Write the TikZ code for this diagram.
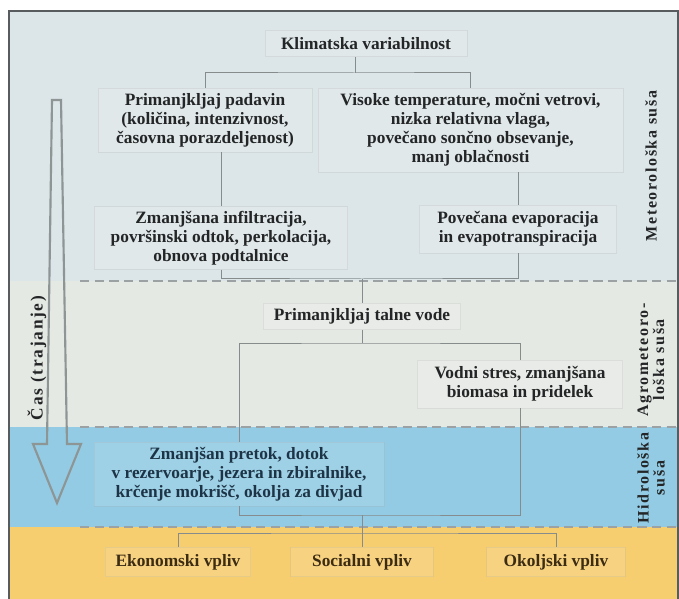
\documentclass[tikz,border=0pt]{standalone}
\usepackage{fontspec}
\setmainfont{Liberation Serif}
\newfontfamily\spacedserif[LetterSpace=10]{Liberation Serif}
\usepackage{tikz}
\usetikzlibrary{calc}
\definecolor{meteo}{HTML}{DCE5E8}
\definecolor{agro}{HTML}{E5E9E4}
\definecolor{hidro}{HTML}{92CBE3}
\definecolor{vpliv}{HTML}{F6CE70}
\definecolor{connline}{HTML}{868C8C}
\definecolor{sepline}{HTML}{9CA2A3}
\definecolor{frameline}{HTML}{585C5E}
\definecolor{arrowline}{HTML}{8E9595}
\definecolor{darktext}{HTML}{232526}
\definecolor{hidrotext}{HTML}{1D3446}
\definecolor{vplivtext}{HTML}{3D2C14}
\newcommand{\bx}{\bfseries\fontsize{13}{14.2}\selectfont}
\newcommand{\sidefont}{\spacedserif\bfseries\fontsize{12}{12}\selectfont}

\begin{document}
\begin{tikzpicture}[x=0.75pt,y=-0.75pt,
    box/.style={draw=gray!70,draw opacity=0.2,line width=0.5pt,fill=white,fill opacity=0.12,
      text opacity=1,text=darktext,align=center,font=\bx,inner sep=0pt},
    conn/.style={draw=connline,line width=0.75pt},
    sep/.style={draw=sepline,line width=1.5pt,dash pattern=on 7pt off 4pt},
    side/.style={rotate=90,align=center,font=\sidefont,text=darktext,inner sep=0pt}]
\useasboundingbox (0,0) rectangle (679,599);
\fill[white] (0,0) rectangle (679,599);
\fill[meteo] (9,11) rectangle (679,281);
\fill[agro] (9,281) rectangle (679,427);
\fill[hidro] (9,427) rectangle (679,527);
\fill[vpliv] (9,527) rectangle (679,599);
\draw[sep] (80,281) -- (679,281);
\draw[sep] (80,427) -- (679,427);
\draw[sep] (80,527) -- (679,527);
\draw[frameline,line width=1.5pt] (9,599) -- (9,11) -- (678,11) -- (678,599);

\node[box,minimum width=151.5pt,minimum height=20pt] (klima) at (366,43.5) {Klimatska variabilnost};
\node[box,minimum width=160.5pt,minimum height=48pt] (padavin) at (205,120) {Primanjkljaj padavin\\(količina, intenzivnost,\\časovna porazdeljenost)};
\node[box,minimum width=229pt,minimum height=63pt] (visoke) at (470.5,130) {Visoke temperature, močni vetrovi,\\nizka relativna vlaga,\\povečano sončno obsevanje,\\manj oblačnosti};
\node[box,minimum width=190pt,minimum height=47pt] (infil) at (221,238) {Zmanjšana infiltracija,\\površinski odtok, perkolacija,\\obnova podtalnice};
\node[box,minimum width=148pt,minimum height=36pt] (evap) at (518,229) {Povečana evaporacija\\in evapotranspiracija};
\node[box,minimum width=148pt,minimum height=20pt] (talne) at (362,316.5) {Primanjkljaj talne vode};
\node[box,minimum width=154pt,minimum height=36pt] (vodni) at (520,384) {Vodni stres, zmanjšana\\biomasa in pridelek};
\node[box,text=hidrotext,minimum width=217.5pt,minimum height=48pt] (pretok) at (239,474) {Zmanjšan pretok, dotok\\v rezervoarje, jezera in zbiralnike,\\krčenje mokrišč, okolja za divjad};
\node[box,text=vplivtext,minimum width=109pt,minimum height=22pt] (ekon) at (178,562) {Ekonomski vpliv};
\node[box,text=vplivtext,minimum width=107pt,minimum height=22pt] (soc) at (362,562) {Socialni vpliv};
\node[box,text=vplivtext,minimum width=104pt,minimum height=22pt] (okol) at (556,562) {Okoljski vpliv};

\coordinate (j1) at (355,73);
\draw[conn] (klima.south -| j1) -- (j1);
\draw[conn] (padavin.north) |- (j1) -| (visoke.north);
\draw[conn] (padavin.south -| infil.north) -- (infil.north);
\draw[conn] (visoke.south -| evap.north) -- (evap.north);
\coordinate (j2) at (362,279);
\draw[conn] (infil.south) |- (j2) -| (evap.south);
\draw[conn] (j2) -- (talne.north);
\coordinate (j3) at (362,343);
\draw[conn] (talne.south) -- (j3);
\draw[conn] (pretok.north) |- (j3) -| (vodni.north);
\coordinate (j4) at (362,515);
\draw[conn] (pretok.south) |- (j4) -| (vodni.south);
\draw[conn] (j4) -- (soc.north);
\coordinate (j5) at (362,533);
\draw[conn] (ekon.north) |- (j5) -| (okol.north);

\node[side] (meteolab) at (651,166) {Meteorološka suša};
\node[side] (agrolab) at (651,360) {Agrometeoro-\\loška suša};
\node[side] (hidrolab) at (651,478) {Hidrološka\\suša};

\draw[draw=arrowline,line width=1.6pt,line join=miter]
  (52,100) -- (61,100) -- (67,444) -- (81,444) -- (57,503) -- (33,444) -- (47,444) -- cycle;
\node[side,font=\spacedserif\bfseries\fontsize{13}{13}\selectfont] (caslab) at (37,358) {Čas (trajanje)};
\end{tikzpicture}
\end{document}
